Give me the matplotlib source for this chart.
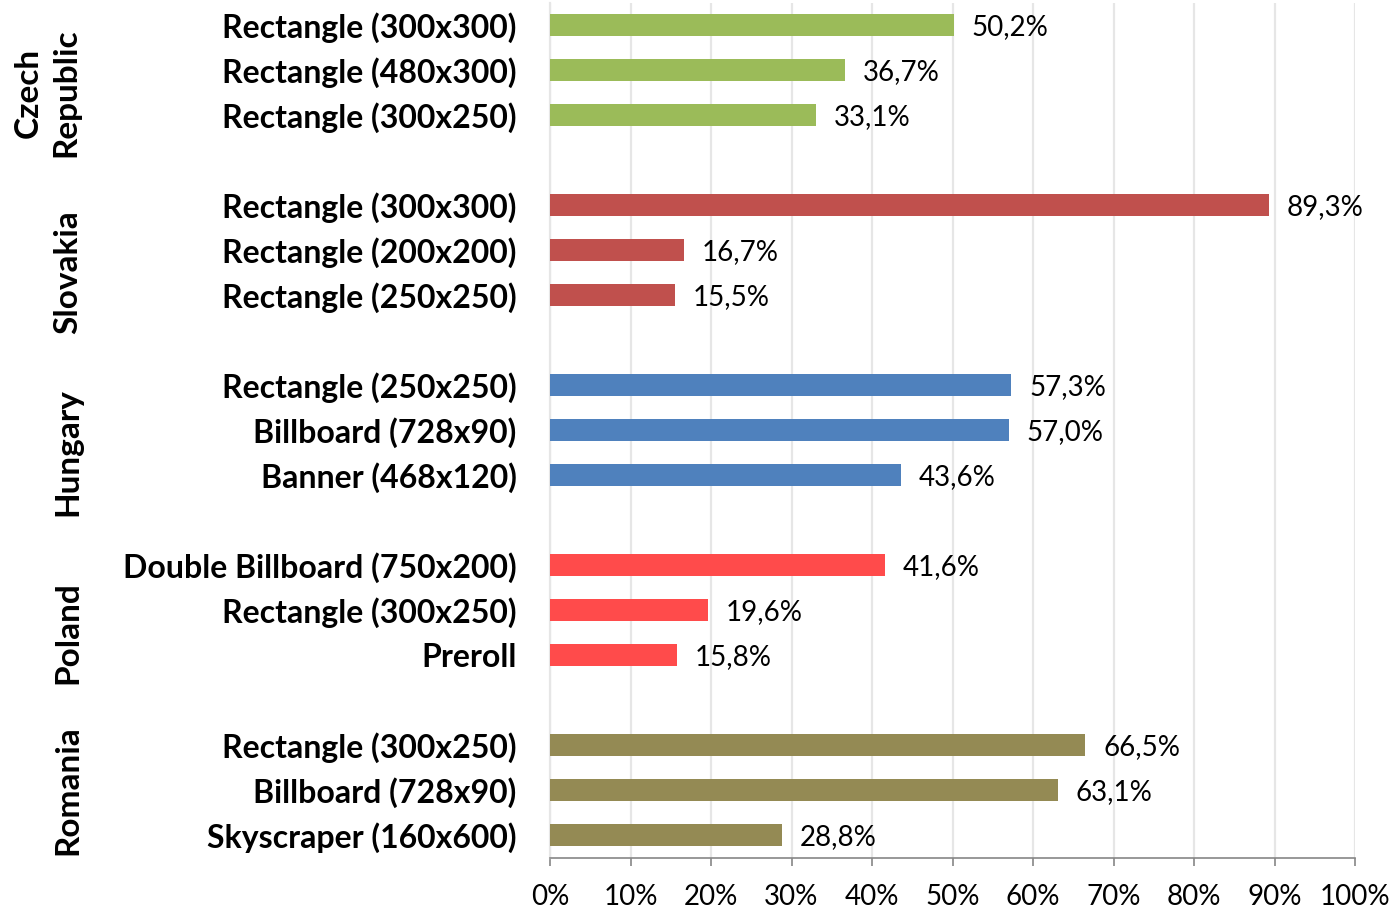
import matplotlib.pyplot as plt
from matplotlib.transforms import blended_transform_factory

plt.rcParams['font.family'] = ['Lato', 'DejaVu Sans']

countries = ["Czech\nRepublic", "Slovakia", "Hungary", "Poland", "Romania"]
formats = [
    ["Rectangle (300x300)", "Rectangle (480x300)", "Rectangle (300x250)"],
    ["Rectangle (300x300)", "Rectangle (200x200)", "Rectangle (250x250)"],
    ["Rectangle (250x250)", "Billboard (728x90)", "Banner (468x120)"],
    ["Double Billboard (750x200)", "Rectangle (300x250)", "Preroll"],
    ["Rectangle (300x250)", "Billboard (728x90)", "Skyscraper (160x600)"],
]
values = [
    [50.2, 36.7, 33.1],
    [89.3, 16.7, 15.5],
    [57.3, 57.0, 43.6],
    [41.6, 19.6, 15.8],
    [66.5, 63.1, 28.8],
]
colors = ["#9BBB59", "#C0504D", "#4F81BD", "#FF4B4B", "#948A54"]

fig = plt.figure(figsize=(13.94, 9.08), dpi=100)
ax = fig.add_axes([550 / 1394, 1 - 857.5 / 908, 805 / 1394, 855 / 908])

ypos, ylabels = [], []
trans = blended_transform_factory(fig.transFigure, ax.transData)
for g, (country, fmts, vals, col) in enumerate(zip(countries, formats, values, colors)):
    ys = [g * 4 + i for i in range(len(vals))]
    ax.barh(ys, vals, height=0.5, color=col, zorder=3)
    for y, v in zip(ys, vals):
        ax.text(v + 2.2, y + 0.05, f"{v:.1f}%".replace(".", ","), va="center",
                ha="left", fontsize=20, zorder=4)
    ypos += ys
    ylabels += fmts
    # group label centered over the group slots (incl. the gap slot)
    span_end = g * 4 + (3 if g < len(countries) - 1 else 2)
    yc = (g * 4 + span_end) / 2
    xfig = (47 if "\n" in country else 68) / 1394
    ax.text(xfig, yc, country, transform=trans, rotation=90, ha="center",
            va="center", fontsize=24, fontweight="bold", linespacing=1.35,
            multialignment="center")

ax.set_yticks(ypos)
ax.set_yticklabels(ylabels, fontsize=23, fontweight="bold")
ax.tick_params(axis="y", length=0, pad=24)
ax.set_ylim(18.5, -0.5)

ax.set_xlim(0, 100)
ax.set_xticks(range(0, 101, 10))
ax.set_xticklabels([f"{t}%" for t in range(0, 101, 10)], fontsize=20)
ax.tick_params(axis="x", length=6, width=1.2, color="#868686", pad=13, direction="out")
ax.grid(axis="x", color="#E6E6E6", linewidth=1.6, zorder=0)

for s in ["top", "right"]:
    ax.spines[s].set_visible(False)
ax.spines["left"].set_color("#E6E6E6")
ax.spines["left"].set_linewidth(1.6)
ax.spines["bottom"].set_color("#868686")
ax.spines["bottom"].set_linewidth(1.2)

fig.savefig("out.png", dpi=100)
